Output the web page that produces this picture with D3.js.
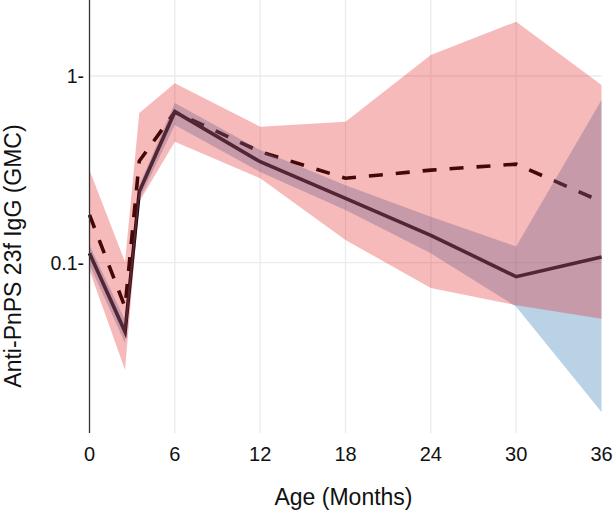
<!DOCTYPE html>
<html>
<head>
<meta charset="utf-8">
<script src="https://cdn.jsdelivr.net/npm/d3@7"></script>
<style>
  html, body { margin: 0; padding: 0; background: #ffffff; }
  svg { display: block; }
  text { font-family: "Liberation Sans", Arial, Helvetica, sans-serif; fill: #111; }
</style>
</head>
<body>
<script>
// ---- data ----
const months      = [0, 2.5, 3.5, 6, 12, 18, 24, 30, 36];
const solidMean   = [0.112, 0.0425, 0.240, 0.644, 0.347, 0.221, 0.140, 0.084, 0.107];
const solidLow    = [0.097, 0.037, 0.218, 0.546, 0.306, 0.191, 0.112, 0.058, 0.0158];
const solidHigh   = [0.124, 0.049, 0.260, 0.716, 0.401, 0.260, 0.176, 0.122, 0.743];
const dashedMean  = [0.180, 0.0577, 0.350, 0.641, 0.393, 0.283, 0.313, 0.337, 0.212];
const dashedLow   = [0.091, 0.0265, 0.212, 0.444, 0.283, 0.132, 0.073, 0.059, 0.050];
const dashedHigh  = [0.313, 0.1006, 0.633, 0.914, 0.535, 0.569, 1.296, 1.955, 0.895];
const xTicks      = [0, 6, 12, 18, 24, 30, 36];
const yTicks      = [0.1, 1];
const yTickLabels = ["0.1-", "1-"];
const xTitle = "Age (Months)";
const yTitle = "Anti-PnPS 23f IgG (GMC)";

(function () {
// ---- layout ----
const W = 615, H = 516;
const pL = 89.5, pR = 601.5, pT = 0, pB = 433;

const svg = d3.select("body").append("svg")
  .attr("width", W).attr("height", H);
svg.append("rect").attr("width", W).attr("height", H).attr("fill", "#fff");

const x = d3.scaleLinear().domain([0, 36]).range([pL, pR]);
const y = d3.scaleLog().domain([0.01219, 2.556]).range([pB, pT]);

// grid
const grid = svg.append("g");
grid.selectAll("line.v").data(xTicks.filter(d => d > 0 && d < 36)).enter()
  .append("line")
  .attr("x1", d => x(d)).attr("x2", d => x(d))
  .attr("y1", pT).attr("y2", pB)
  .attr("stroke", "#ebebeb").attr("stroke-width", 1.3);
grid.selectAll("line.h").data(yTicks).enter()
  .append("line")
  .attr("x1", pL).attr("x2", pR)
  .attr("y1", d => y(d)).attr("y2", d => y(d))
  .attr("stroke", "#ebebeb").attr("stroke-width", 1.3);

const rows = months.map((m, i) => ({
  m, sm: solidMean[i], sl: solidLow[i], sh: solidHigh[i],
  dm: dashedMean[i], dl: dashedLow[i], dh: dashedHigh[i]
}));

// lines (drawn underneath the ribbons)
const lineS = d3.line().x(d => x(d.m)).y(d => y(d.sm));
const lineD = d3.line().x(d => x(d.m)).y(d => y(d.dm));
svg.append("path").datum(rows).attr("d", lineS)
  .attr("fill", "none").attr("stroke", "#000").attr("stroke-width", 3.6)
  .attr("stroke-linejoin", "miter");
svg.append("path").datum(rows).attr("d", lineD)
  .attr("fill", "none").attr("stroke", "#000").attr("stroke-width", 3.6)
  .attr("stroke-dasharray", "14,13");

// ribbons
const areaS = d3.area().x(d => x(d.m)).y0(d => y(d.sl)).y1(d => y(d.sh));
const areaD = d3.area().x(d => x(d.m)).y0(d => y(d.dl)).y1(d => y(d.dh));
svg.append("path").datum(rows).attr("d", areaS)
  .attr("fill", "#377eb8").attr("fill-opacity", 0.35);
svg.append("path").datum(rows).attr("d", areaD)
  .attr("fill", "#e41a1c").attr("fill-opacity", 0.3);

// y axis line
svg.append("line")
  .attr("x1", pL).attr("x2", pL).attr("y1", pT).attr("y2", pB)
  .attr("stroke", "#333").attr("stroke-width", 1.3);

// tick labels
svg.selectAll("text.xt").data(xTicks).enter()
  .append("text")
  .attr("x", d => x(d)).attr("y", 461)
  .attr("text-anchor", "middle")
  .attr("font-size", 20)
  .text(d => d);
svg.selectAll("text.yt").data(yTicks).enter()
  .append("text")
  .attr("x", 84).attr("y", d => y(d) + 7)
  .attr("text-anchor", "end")
  .attr("font-size", 19.5)
  .text((d, i) => yTickLabels[i]);

// titles
svg.append("text")
  .attr("x", (pL + pR) / 2 - 2).attr("y", 505)
  .attr("text-anchor", "middle")
  .attr("font-size", 23)
  .text(xTitle);
svg.append("text")
  .attr("transform", "translate(21,256) rotate(-90)")
  .attr("text-anchor", "middle")
  .attr("font-size", 23)
  .text(yTitle);
})();
</script>
</body>
</html>
